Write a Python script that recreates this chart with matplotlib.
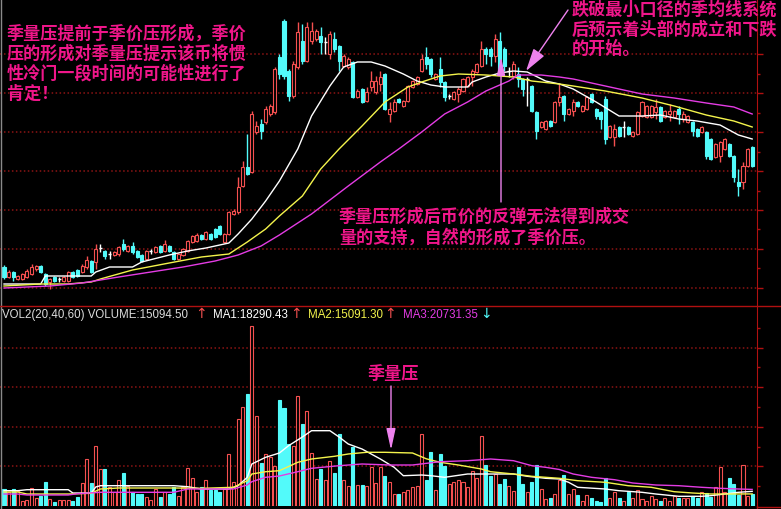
import matplotlib
matplotlib.use("Agg")
import matplotlib.pyplot as plt
from matplotlib.patches import Rectangle

# ---- daily bars (price units are arbitrary) ----
opens = [4.2, 3.2, 3.7, 3.0, 3.0, 3.2, 3.5, 4.0, 4.3, 3.5,
         2.7, 3.2, 3.0, 2.8, 2.8, 3.7, 3.9, 3.7, 4.2, 4.8,
         4.7, 6.1, 5.8, 5.5, 5.4, 5.5, 6.5, 5.8, 6.3, 5.8,
         5.4, 5.0, 5.8, 5.7, 6.3, 5.8, 6.3, 5.7, 5.0, 5.4,
         5.8, 6.7, 6.8, 7.4, 7.0, 7.5, 8.0, 8.3, 6.7, 7.5,
         9.5, 9.7, 12.3, 14.2, 13.7, 17.7, 18.5, 18.7, 19.5, 19.7,
         25.2, 28.8, 23.8, 21.3, 24.2, 26.8, 24.8, 26.8, 27.0, 27.3,
         26.7, 25.5, 27.0, 26.3, 24.3, 24.2, 24.7, 21.2, 22.0, 20.8,
         22.2, 21.7, 22.5, 23.5, 19.5, 19.8, 21.0, 20.3, 20.8, 22.2,
         22.5, 23.8, 25.2, 25.0, 23.0, 24.0, 22.7, 21.3, 21.0, 21.5,
         21.8, 22.3, 23.2, 23.7, 24.3, 26.0, 26.0, 25.3, 26.8, 26.0,
         23.8, 23.3, 23.5, 23.0, 23.0, 22.3, 19.7, 18.2, 18.0, 18.8,
         18.7, 20.7, 21.3, 19.5, 19.8, 20.7, 19.8, 20.0, 21.5, 20.0,
         19.7, 21.0, 17.2, 17.2, 18.2, 18.2, 18.2, 17.3, 17.5, 19.3,
         19.2, 19.2, 19.7, 20.2, 19.2, 19.5, 19.2, 20.0, 19.0, 18.7,
         18.7, 18.0, 17.7, 17.7, 17.0, 15.2, 15.3, 16.0, 16.5, 15.3,
         12.7, 12.7, 14.3, 16.2]
highs = [4.4, 3.9, 3.8, 3.4, 3.6, 4.0, 4.5, 4.4, 4.4, 3.6,
         3.1, 3.3, 3.2, 3.3, 3.8, 3.8, 4.0, 4.5, 5.3, 4.9,
         6.5, 6.5, 5.9, 5.8, 5.8, 6.3, 7.0, 6.4, 6.7, 5.9,
         5.5, 5.9, 6.0, 6.3, 6.4, 6.9, 6.4, 5.8, 5.6, 6.1,
         6.9, 7.4, 7.6, 7.5, 7.8, 7.6, 8.1, 8.4, 7.6, 9.8,
         10.0, 13.2, 14.8, 17.5, 19.8, 18.8, 19.0, 20.3, 20.5, 24.2,
         25.5, 29.0, 24.0, 24.8, 28.7, 28.5, 28.7, 28.7, 28.0, 28.2,
         27.2, 27.8, 27.7, 26.4, 25.5, 25.2, 24.8, 22.0, 22.1, 22.2,
         23.8, 23.3, 23.8, 23.6, 20.7, 21.0, 21.1, 20.9, 22.4, 22.9,
         23.3, 25.5, 26.2, 25.1, 23.6, 25.2, 22.8, 21.5, 21.8, 22.2,
         23.1, 23.3, 24.0, 24.6, 26.8, 26.2, 26.2, 27.5, 27.7, 26.2,
         24.2, 24.8, 24.2, 23.1, 23.2, 22.4, 19.8, 18.8, 18.9, 18.9,
         20.8, 22.5, 21.4, 20.1, 21.0, 20.8, 20.4, 21.3, 21.6, 20.1,
         19.8, 21.3, 18.4, 18.5, 18.3, 18.8, 18.3, 17.8, 19.8, 20.8,
         20.4, 20.4, 21.0, 20.3, 19.9, 20.5, 19.9, 20.3, 19.8, 19.4,
         18.8, 18.1, 18.3, 17.8, 17.1, 16.6, 16.8, 17.1, 16.6, 15.4,
         14.0, 14.7, 16.1, 16.3]
lows = [3.0, 3.1, 2.8, 2.9, 2.9, 3.1, 3.4, 3.8, 3.6, 2.3,
        2.0, 2.7, 2.7, 2.7, 2.7, 3.1, 3.2, 3.6, 4.0, 3.6,
        4.0, 5.7, 5.0, 5.0, 5.3, 5.3, 5.8, 5.7, 5.5, 5.1,
        4.7, 4.9, 5.5, 5.6, 5.6, 5.7, 5.7, 4.9, 4.9, 5.3,
        5.7, 6.6, 6.7, 6.9, 6.9, 6.9, 7.1, 7.4, 6.6, 7.4,
        9.4, 9.5, 12.2, 13.4, 13.6, 17.5, 17.0, 18.5, 19.3, 19.5,
        23.0, 23.0, 20.8, 21.1, 24.0, 24.5, 24.7, 26.5, 26.8, 25.5,
        25.5, 25.0, 25.7, 23.8, 24.2, 24.0, 21.1, 21.1, 20.6, 20.7,
        21.8, 21.5, 21.8, 19.9, 18.7, 19.7, 20.6, 20.2, 20.7, 22.1,
        22.4, 23.7, 24.0, 23.2, 22.9, 22.2, 20.8, 21.0, 20.9, 20.7,
        21.7, 22.2, 22.3, 23.6, 24.2, 24.5, 24.3, 24.7, 23.6, 23.8,
        23.2, 23.0, 22.2, 21.3, 20.3, 19.7, 17.0, 18.1, 17.9, 18.2,
        18.6, 20.3, 18.8, 19.4, 19.3, 20.2, 19.7, 19.9, 20.6, 19.0,
        18.0, 16.5, 17.1, 16.3, 17.2, 17.2, 17.4, 17.2, 17.4, 19.2,
        19.1, 19.1, 19.0, 18.7, 19.1, 18.8, 19.1, 18.5, 18.7, 18.6,
        17.3, 17.2, 17.6, 15.0, 14.9, 15.1, 14.7, 15.9, 15.2, 12.7,
        11.3, 12.0, 14.2, 14.2]
closes = [3.2, 3.7, 3.2, 3.3, 3.5, 3.8, 4.2, 4.3, 3.7, 2.5,
          3.0, 2.8, 3.0, 3.2, 3.7, 3.2, 3.3, 4.3, 4.9, 3.7,
          6.0, 6.1, 5.3, 5.5, 5.7, 6.2, 6.0, 6.3, 5.7, 5.2,
          4.8, 5.8, 5.8, 6.2, 5.7, 6.5, 5.8, 5.0, 5.5, 6.0,
          6.8, 7.3, 7.4, 7.0, 7.7, 7.0, 7.2, 7.5, 7.5, 9.7,
          9.8, 12.2, 14.2, 13.5, 19.5, 18.3, 17.8, 20.0, 20.3, 24.0,
          23.5, 23.3, 21.3, 24.5, 27.7, 24.8, 28.2, 27.8, 27.8, 26.7,
          26.7, 27.5, 26.0, 24.8, 25.3, 25.0, 21.2, 21.8, 20.7, 21.7,
          22.8, 22.8, 23.2, 20.0, 20.0, 20.7, 20.7, 20.8, 22.3, 22.8,
          23.2, 25.0, 24.5, 23.5, 23.5, 22.7, 21.2, 21.3, 21.7, 22.0,
          23.0, 23.2, 23.8, 24.5, 26.0, 25.5, 25.3, 27.0, 23.7, 24.3,
          23.8, 24.5, 23.0, 22.0, 23.0, 19.8, 17.8, 18.7, 18.8, 18.3,
          20.7, 21.2, 19.5, 20.0, 20.7, 20.3, 20.3, 21.2, 20.7, 19.3,
          19.0, 17.0, 18.3, 18.0, 17.3, 18.2, 17.5, 17.7, 19.7, 20.7,
          20.3, 20.3, 20.2, 18.8, 19.8, 19.8, 19.8, 19.5, 19.5, 19.3,
          17.8, 17.3, 18.2, 15.3, 15.0, 16.5, 16.7, 17.0, 15.3, 13.2,
          12.3, 14.3, 16.0, 14.3]
volumes = [21250, 17500, 21250, 19125, 6625, 7875, 22125, 9625, 12875, 29625,
           8750, 5375, 7500, 7500, 7500, 6625, 10875, 28750, 58750, 28750,
           74625, 46250, 46250, 23375, 17125, 32500, 41250, 25375, 17875, 15000,
           15000, 11625, 7500, 21250, 11625, 17875, 15000, 23375, 12875, 23375,
           47500, 34625, 17875, 23375, 32875, 20000, 20000, 17125, 21250, 65000,
           29625, 108750, 123375, 140000, 225000, 112875, 53750, 65000, 60875, 49625,
           132875, 122125, 77500, 75375, 137875, 102500, 119125, 66250, 33750, 46250,
           32875, 56625, 41250, 90000, 32875, 25375, 73375, 26250, 26250, 25375,
           48375, 28750, 48375, 37875, 30375, 15000, 15000, 17125, 20375, 23375,
           25375, 90000, 32875, 67875, 20000, 65000, 50375, 27500, 30375, 32875,
           29625, 23375, 44125, 34625, 87125, 51250, 37875, 40000, 27500, 33750,
           25375, 19125, 48375, 27500, 17875, 29625, 51250, 21250, 8750, 9625,
           15000, 32875, 38750, 15000, 21250, 13750, 6625, 13750, 9625, 6625,
           4625, 34625, 9625, 17875, 9625, 6625, 17125, 9625, 20000, 8750,
           6625, 12875, 8750, 6625, 9625, 6625, 12875, 9625, 9625, 9625,
           12875, 9625, 17875, 15875, 10875, 23375, 48375, 17875, 34625, 27500,
           13750, 51250, 12875, 15094.50]

# price moving averages, read at the bars where the lines bend
ma1_idx = [0, 8, 9, 19, 20, 23, 28, 30, 36, 40, 44, 49, 51, 54, 57,
           60, 64, 67, 71, 74, 77, 80, 83, 87, 90, 93, 96, 101, 102, 105,
           108, 111, 114, 118, 121, 124, 129, 134, 139, 143, 147, 151, 156, 160, 163]
ma1 = [2.5, 2.5, 3.3, 3.3, 3.7, 4.2, 4.2, 4.7, 5.4, 5.8, 6.1, 6.6, 7.5, 9.0, 10.8,
       12.8, 16.0, 19.3, 22.3, 24.2, 24.7, 24.7, 24.3, 23.5, 22.8, 22.4, 22.2, 22.2, 22.7, 23.2,
       23.6, 23.8, 23.7, 22.8, 22.5, 22.0, 20.7, 19.3, 19.3, 19.4, 19.0, 18.8, 18.4, 17.4, 17.0]
ma2_idx = [0, 8, 14, 19, 21, 28, 36, 43, 49, 53, 57, 60, 65, 69, 73, 78,
           83, 88, 91, 95, 99, 105, 111, 115, 121, 124, 131, 139, 146, 153, 159, 163]
ma2 = [2.3, 2.5, 2.5, 2.7, 3.0, 3.9, 4.6, 5.2, 5.5, 6.7, 8.0, 9.3, 11.3, 14.0, 16.0, 18.3,
       20.7, 22.2, 22.7, 23.3, 23.5, 23.4, 23.2, 22.8, 22.5, 22.3, 21.8, 21.1, 20.3, 19.4, 18.8, 18.2]
ma3_idx = [0, 10, 17, 25, 32, 39, 46, 51, 56, 60, 67, 75, 82, 86, 91,
           96, 101, 105, 110, 112, 117, 121, 124, 131, 139, 146, 153, 159, 163]
ma3 = [2.1, 2.3, 2.6, 3.2, 3.7, 4.2, 4.8, 5.4, 6.3, 7.4, 9.5, 12.3, 14.7, 16.0, 17.7,
       19.5, 20.7, 21.8, 22.8, 23.4, 23.4, 23.2, 23.0, 22.3, 21.5, 21.1, 20.6, 20.2, 19.5]

# volume moving averages VOL2(20,40,60)
vma1_idx = [0, 3, 5, 14, 15, 19, 20, 21, 37, 40, 43, 49, 51, 53, 54, 57, 60, 62, 65, 67,
            71, 73, 75, 78, 82, 85, 87, 91, 93, 96, 101, 111, 114, 118, 121, 123, 125,
            131, 134, 139, 142, 147, 152, 154, 157, 160, 163]
vma1 = [19125, 19125, 20375, 20375, 16250, 16250, 23750, 25375, 25375, 24125, 21250, 21250,
        25375, 35875, 52500, 60875, 66250, 75375, 86250, 94125, 94125, 86250, 77500, 71250,
        58750, 48375, 37875, 38750, 37875, 35875, 40000, 40000, 37125, 34625, 33750, 29625,
        23375, 21250, 19125, 17125, 15000, 12125, 12125, 12875, 15000, 17125, 18290.43]
vma2_idx = [0, 3, 5, 14, 19, 21, 25, 37, 43, 50, 53, 54, 57, 60, 64, 67, 72, 75, 79, 83,
            89, 92, 95, 99, 104, 106, 111, 115, 118, 121, 125, 131, 136, 141, 146, 150, 154, 163]
vma2 = [17500, 17500, 15000, 15000, 15875, 21250, 22500, 22500, 22125, 23375, 31625, 40000,
        42875, 44125, 54625, 58750, 62125, 65000, 67125, 67125, 66250, 59000, 54625, 51250,
        46250, 42875, 40000, 37125, 35875, 34625, 31625, 29625, 25375, 23375, 17875, 16250,
        15000, 15091.30]
vma3_idx = [0, 3, 5, 14, 16, 21, 37, 40, 50, 53, 54, 57, 60, 64, 67, 73, 78, 84, 89, 95,
            101, 106, 111, 115, 118, 121, 124, 128, 133, 137, 142, 147, 152, 156, 160, 163]
vma3 = [15000, 15000, 13750, 13750, 15375, 17125, 17125, 21250, 21250, 26250, 30375, 35875,
        37500, 42875, 47125, 50375, 52500, 51250, 51250, 55375, 56625, 58750, 56625, 50375,
        48375, 45625, 40000, 35875, 32875, 28750, 26250, 25375, 23375, 22125, 21250, 20731.35]

price_grid = [2.15, 6.05, 9.9, 13.8, 17.7, 21.6, 25.5]
vol_grid = [49500, 99000, 148500, 198000]

note_left = ["季量压提前于季价压形成，季价",
             "压的形成对季量压提示该币将惯",
             "性冷门一段时间的可能性进行了",
             "肯定！"]
note_right = ["跌破最小口径的季均线系统",
              "后预示着头部的成立和下跌",
              "的开始。"]
note_mid = ["季量压形成后币价的反弹无法得到成交",
            "量的支持，自然的形成了季价压。"]
note_vol = "季量压"

UP = '#f55050'
DOWN = '#52fafa'
FRAME = '#b01010'
GRIDC = '#8c1414'
PINK = '#f0168a'
ARROW = '#ee82ee'

W, H = 781, 510
fig = plt.figure(figsize=(W / 100, H / 100), dpi=100, facecolor='black')

def box(x0, y0, x1, y1):
    # pixel box measured from the top left corner
    return fig.add_axes([x0 / W, 1 - y1 / H, (x1 - x0) / W, (y1 - y0) / H])

# bar i sits at 4 + 4.59*i pixels
X0, STEP, RIGHT = 4.0, 4.59, 757
xlim = (-X0 / STEP, (RIGHT - X0) / STEP)

ax = box(0, 0, RIGHT, 307)
axv = box(0, 307, RIGHT, 507)
for a in (ax, axv):
    a.set_facecolor('black')
    a.set_xlim(*xlim)
    a.set_xticks([])
    for s in a.spines.values():
        s.set_visible(False)
    a.spines['right'].set_visible(True)
    a.spines['right'].set_color(FRAME)
    a.yaxis.tick_right()
    a.tick_params(axis='y', which='both', colors=FRAME, direction='out',
                  labelright=False, width=1)
    a.tick_params(axis='y', which='major', length=4.5)
    a.tick_params(axis='y', which='minor', length=2.2)

ax.set_ylim(0.3, 31.0)
axv.set_ylim(0, 250000)
ax.set_yticks(price_grid)
ax.set_yticks([(a + b) / 2 for a, b in zip(price_grid[:-1], price_grid[1:])], minor=True)
axv.set_yticks(vol_grid)
axv.set_yticks([v - 24750 for v in vol_grid] + [222750], minor=True)
for g in price_grid:
    ax.axhline(g, color=GRIDC, lw=1.1, ls=(0, (1, 1.6)), zorder=0)
for g in vol_grid:
    axv.axhline(g, color=GRIDC, lw=1.1, ls=(0, (1, 1.6)), zorder=0)

# candles: hollow red for up days, solid cyan for down days, white for flat
bw = 0.66
for i, (o, h, l, c) in enumerate(zip(opens, highs, lows, closes)):
    if c > o:
        col = UP
    elif c < o:
        col = DOWN
    else:
        col = 'white'
    ax.vlines(i, l, h, color=col, lw=1, zorder=2)
    if c == o:
        ax.hlines(o, i - bw / 2, i + bw / 2, color=col, lw=1, zorder=3)
    else:
        face = 'black' if c > o else col
        ax.add_patch(Rectangle((i - bw / 2, min(o, c)), bw, abs(c - o),
                               facecolor=face, edgecolor=col, lw=0.8, zorder=3))
    vcol = DOWN if c < o else UP
    axv.add_patch(Rectangle((i - bw / 2, 0), bw, volumes[i],
                            facecolor=vcol if c < o else 'black',
                            edgecolor=vcol, lw=0.8, zorder=2))

ax.plot(ma1_idx, ma1, color='white', lw=1, zorder=4)
ax.plot(ma2_idx, ma2, color='#f4f44c', lw=1, zorder=4)
ax.plot(ma3_idx, ma3, color='#e43ce4', lw=1, zorder=4)
axv.plot(vma1_idx, vma1, color='white', lw=1, zorder=4)
axv.plot(vma2_idx, vma2, color='#f4f44c', lw=1, zorder=4)
axv.plot(vma3_idx, vma3, color='#e43ce4', lw=1, zorder=4)

# overlay in pixel coordinates for frame lines, notes and arrows
ov = fig.add_axes([0, 0, 1, 1])
ov.set_xlim(0, W)
ov.set_ylim(H, 0)
ov.axis('off')
ov.patch.set_alpha(0)
ov.plot([0.7, 0.7], [0, H], color='#8a8a8a', lw=1)
ov.plot([0, W], [307, 307], color=FRAME, lw=1)
ov.plot([RIGHT, W], [508, 508], color=FRAME, lw=1)
ov.plot([RIGHT, RIGHT], [507, H], color=FRAME, lw=1)

cjk = dict(family=['Noto Sans CJK SC', 'DejaVu Sans'], fontsize=12.3,
           fontweight='bold', color=PINK, va='center', ha='left')
for k, line in enumerate(note_left):
    ov.text(7, 33.5 + 20.2 * k, line, **cjk)
for k, line in enumerate(note_right):
    ov.text(572, 10 + 19.5 * k, line, **cjk)
for k, line in enumerate(note_mid):
    ov.text(339, 216.5 + 21 * k, line, **cjk)
ov.text(368, 374.5, note_vol, **cjk)

ov.annotate('', xy=(391, 451), xytext=(391, 387),
            arrowprops=dict(arrowstyle='-|>,head_length=1.3,head_width=0.28',
                            color=ARROW, lw=1, shrinkA=0, shrinkB=0))
ov.annotate('', xy=(501, 58), xytext=(501, 203),
            arrowprops=dict(arrowstyle='-|>,head_length=1.1,head_width=0.25',
                            color=ARROW, lw=1, shrinkA=0, shrinkB=0))
ov.annotate('', xy=(526, 72), xytext=(568, 11),
            arrowprops=dict(arrowstyle='-|>,head_length=1.4,head_width=0.4',
                            color=ARROW, lw=1, shrinkA=0, shrinkB=0))

# VOL2 header row
hdr = dict(family=['Liberation Sans', 'DejaVu Sans'], fontsize=8.3, va='center', ha='left')
arr = dict(family=['DejaVu Sans'], fontsize=10, va='center', ha='center')
ov.text(2, 315, f"VOL2(20,40,60) VOLUME:{volumes[-1]:.2f}", color='#dcdcdc', **hdr)
ov.text(201, 314, "↑", color=UP, **arr)
ov.text(213, 315, f"MA1:{vma1[-1]:.2f}", color='white', **hdr)
ov.text(296, 314, "↑", color=UP, **arr)
ov.text(308, 315, f"MA2:{vma2[-1]:.2f}", color='#f4f44c', **hdr)
ov.text(390, 314, "↑", color=UP, **arr)
ov.text(403, 315, f"MA3:{vma3[-1]:.2f}", color='#e43ce4', **hdr)
ov.text(486, 314, "↓", color=DOWN, **arr)

fig.savefig('out.png', dpi=100, facecolor='black')
